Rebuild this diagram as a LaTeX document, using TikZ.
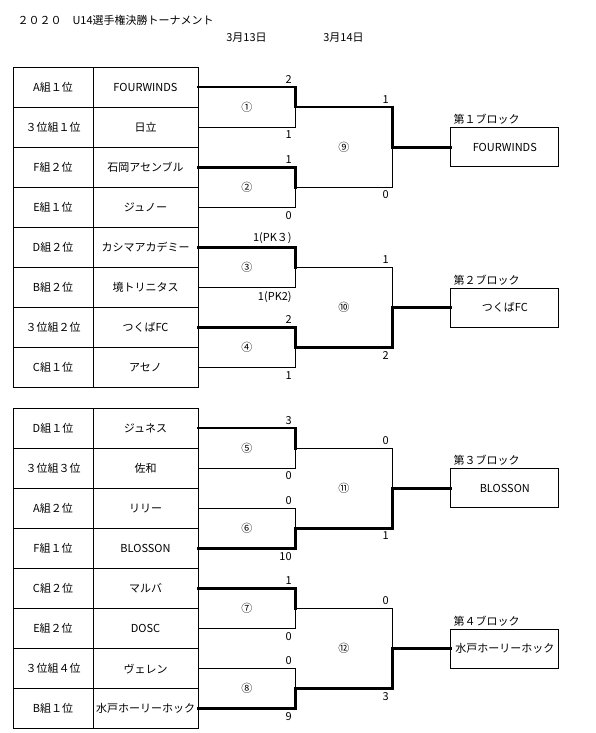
\documentclass[tikz,border=0pt]{standalone}
\usepackage{fontspec}
\setmainfont{Noto Sans CJK JP}
\usetikzlibrary{positioning,calc}

\tikzset{
  cell/.style={draw, line width=0.8pt, minimum height=40.1pt, inner sep=0pt},
  win/.style={line width=2.8pt, line cap=rect},
  lose/.style={line width=0.8pt, line cap=rect},
  score/.style={inner sep=3.5pt},
  block/.style={draw, line width=0.8pt, minimum width=108pt, minimum height=39pt, inner sep=0pt}
}

\begin{document}
\begin{tikzpicture}[x=1pt, y=-1pt, font=\fontsize{11}{13}\selectfont]
  \useasboundingbox (0,0) rectangle (595,733);

  % title and dates
  \node[anchor=west] (title) at (14,20) {２０２０　U14選手権決勝トーナメント};
  \node (day1) at (246.5,38) {3月13日};
  \node (day2) at (343.5,38) {3月14日};

  % entry table
  \foreach \grp/\club [count=\i] in {A組１位/FOURWINDS, ３位組１位/日立, F組２位/石岡アセンブル, E組１位/ジュノー,
      D組２位/カシマアカデミー, B組２位/境トリニタス, ３位組２位/つくばFC, C組１位/アセノ}
  {
    \node[cell, minimum width=80pt] (rank\i) at (53, {67+40.1*\i-20.05}) {\grp};
    \node[cell, minimum width=105pt] (team\i) at (145.5, {67+40.1*\i-20.05}) {\club};
  }
  \foreach \grp/\club [count=\i from 9] in {D組１位/ジュネス, ３位組３位/佐和, A組２位/リリー, F組１位/BLOSSON,
      C組２位/マルバ, E組２位/DOSC, ３位組４位/ヴェレン, B組１位/水戸ホーリーホック}
  {
    \node[cell, minimum width=80pt] (rank\i) at (53, {408+40.1*(\i-8)-20.05}) {\grp};
    \node[cell, minimum width=105pt] (team\i) at (145.5, {408+40.1*(\i-8)-20.05}) {\club};
  }

  % match points
  \foreach \k in {1,...,8} {
    \pgfmathtruncatemacro\ta{2*\k-1}
    \pgfmathtruncatemacro\tb{2*\k}
    \coordinate (m\k) at ($(team\ta.east)!.5!(team\tb.east) + (97,0)$);
  }
  \coordinate (m9) at ($(m1)!.5!(m2) + (97,0)$);
  \coordinate (m10) at ($(m3)!.5!(m4) + (97,0)$);
  \coordinate (m11) at ($(m5)!.5!(m6) + (97,0)$);
  \coordinate (m12) at ($(m7)!.5!(m8) + (97,0)$);

  % brackets with scores
  \foreach \k/\a/\b/\sa/\sb/\wa/\wb in {
      1/team1/team2/2/1/win/lose, 2/team3/team4/1/0/win/lose,
      3/team5/team6/1(PK３)/1(PK2)/win/lose, 4/team7/team8/2/1/win/lose,
      5/team9/team10/3/0/win/lose, 6/team11/team12/0/10/lose/win,
      7/team13/team14/1/0/win/lose, 8/team15/team16/0/9/lose/win,
      9/m1/m2/1/0/win/lose, 10/m3/m4/1/2/lose/win,
      11/m5/m6/0/1/lose/win, 12/m7/m8/0/3/lose/win}
  {
    \draw[\wa] (\a) -- (\a -| m\k) -- (m\k);
    \draw[\wb] (\b) -- (\b -| m\k) -- (m\k);
    \node[score, above left] (sa\k) at (\a -| m\k) {\sa};
    \node[score, below left] (sb\k) at (\b -| m\k) {\sb};
  }

  % match numbers
  \foreach \k/\lab in {1/①, 2/②, 3/③, 4/④, 5/⑤, 6/⑥, 7/⑦, 8/⑧, 9/⑨, 10/⑩, 11/⑪, 12/⑫}
    \node (c\k) at ($(m\k) + (-48.5,0)$) {\lab};

  % block winners
  \foreach \k/\bn/\club in {9/１/FOURWINDS, 10/２/つくばFC, 11/３/BLOSSON, 12/４/水戸ホーリーホック}
  {
    \node[block, right=58pt of m\k] (block\k) {\club};
    \draw[win] (m\k) -- (block\k);
    \node[anchor=south west, inner sep=2.5pt] (blabel\k) at ([xshift=0.5pt]block\k.north west) {第\bn ブロック};
  }
\end{tikzpicture}
\end{document}
